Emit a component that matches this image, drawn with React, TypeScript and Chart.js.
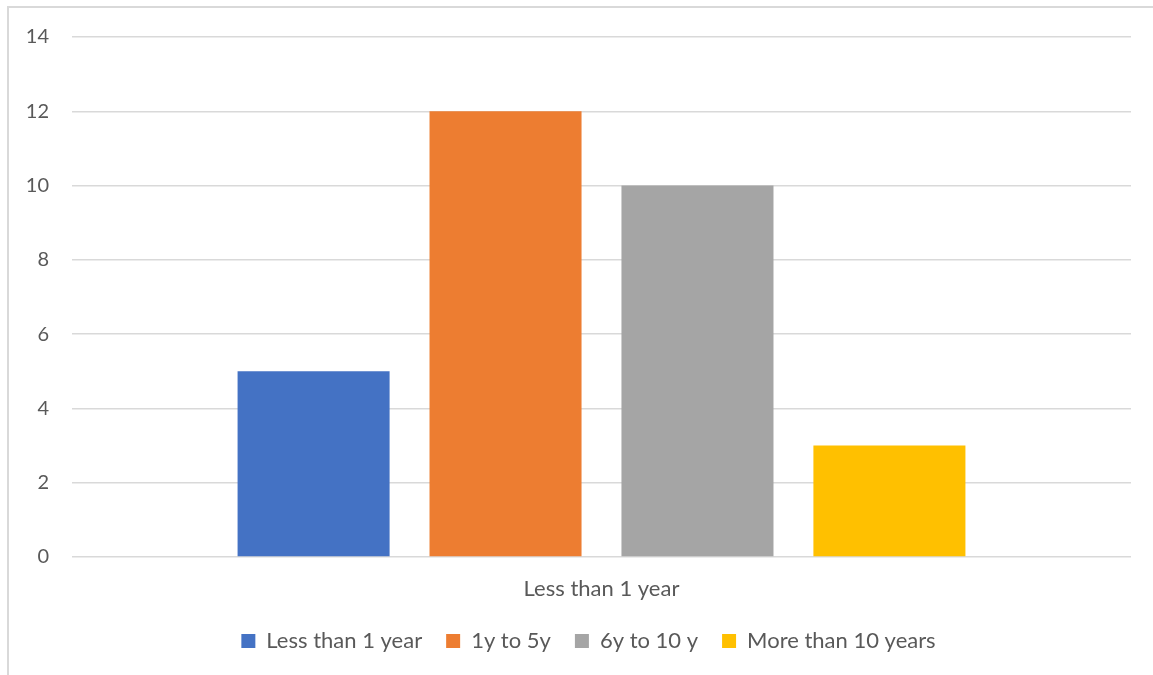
import { useEffect, useRef } from "react";
import { Chart, registerables } from "chart.js";

Chart.register(...registerables);

const categories = ["Less than 1 year"];
const seriesNames = ["Less than 1 year", "1y to 5y", "6y to 10 y", "More than 10 years"];
const seriesValues = [[5], [12], [10], [3]];
const seriesColors = ["#4472C4", "#ED7D31", "#A5A5A5", "#FFC000"];
const yMin = 0;
const yMax = 14;
const yStep = 2;

const FONT_FAMILY = "Lato, 'Open Sans', sans-serif";
const TEXT_COLOR = "#595959";
const GRID_COLOR = "#D9D9D9";

// Centre the legend row under the plot area rather than the whole canvas.
const legendUnderPlot = {
  id: "legendUnderPlot",
  afterLayout(chart: any) {
    const legend = chart.legend;
    if (legend) legend.left = chart.chartArea.left - 26;
  },
};

export default function App() {
  const canvasRef = useRef<HTMLCanvasElement | null>(null);

  useEffect(() => {
    if (!canvasRef.current) return;
    const chart = new Chart(canvasRef.current, {
      type: "bar",
      data: {
        labels: categories,
        datasets: seriesNames.map((name, i) => ({
          label: name,
          data: seriesValues[i],
          backgroundColor: seriesColors[i],
          borderWidth: 0,
          categoryPercentage: 0.725,
          barPercentage: 0.792,
        })),
      },
      options: {
        animation: false,
        responsive: false,
        maintainAspectRatio: false,
        layout: { padding: { left: 0, top: 37, right: 22, bottom: 13 } },
        plugins: {
          tooltip: { enabled: false },
          legend: {
            position: "bottom",
            labels: {
              boxWidth: 14,
              boxHeight: 14,
              padding: 24,
              color: TEXT_COLOR,
              font: { family: FONT_FAMILY, size: 22 },
            },
          },
        },
        scales: {
          x: {
            grid: { display: false, drawTicks: false },
            border: { display: false },
            ticks: {
              color: TEXT_COLOR,
              padding: 19,
              font: { family: FONT_FAMILY, size: 22 },
            },
            afterFit: (scale: any) => {
              scale.height = 49;
            },
          },
          y: {
            min: yMin,
            max: yMax,
            grid: { color: GRID_COLOR, lineWidth: 1.5, drawTicks: false },
            border: { display: false },
            ticks: {
              stepSize: yStep,
              color: TEXT_COLOR,
              padding: 23,
              font: { family: FONT_FAMILY, size: 20 },
            },
            afterFit: (scale: any) => {
              scale.width = 72;
            },
          },
        },
      },
      plugins: [legendUnderPlot],
    });
    return () => chart.destroy();
  }, []);

  return (
    <div
      style={{
        position: "fixed",
        left: 0,
        top: 0,
        width: 1153,
        height: 675,
        overflow: "hidden",
        background: "#FFFFFF",
      }}
    >
      <div
        style={{
          position: "absolute",
          left: 7,
          top: 6,
          width: 1300,
          height: 800,
          border: "2px solid #D9D9D9",
          boxSizing: "border-box",
        }}
      />
      <canvas
        ref={canvasRef}
        width={1153}
        height={675}
        style={{ position: "absolute", left: 0, top: 0, width: 1153, height: 675 }}
      />
    </div>
  );
}
